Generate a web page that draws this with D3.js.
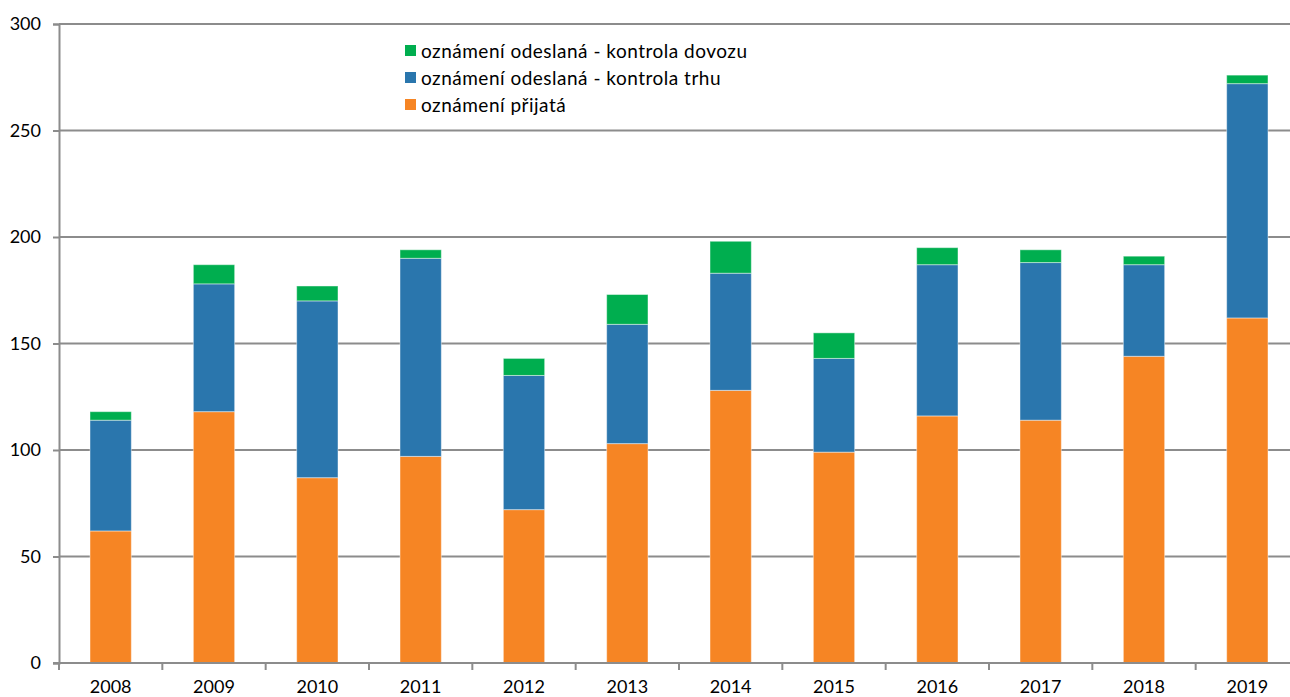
<!DOCTYPE html>
<html>
<head>
<meta charset="utf-8">
<script src="https://cdn.jsdelivr.net/npm/d3@7"></script>
<style>
  html, body { margin: 0; padding: 0; background: #fff; }
  svg { display: block; }
  text { font-family: Lato, "Open Sans", sans-serif; fill: #000; }
</style>
</head>
<body>
<svg id="chart" width="1290" height="697"></svg>
<script>
const years = ["2008","2009","2010","2011","2012","2013","2014","2015","2016","2017","2018","2019"];
const prijata = [62, 118, 87, 97, 72, 103, 128, 99, 116, 114, 144, 162];
const kontrolaTrhu = [52, 60, 83, 93, 63, 56, 55, 44, 71, 74, 43, 110];
const kontrolaDovozu = [4, 9, 7, 4, 8, 14, 15, 12, 8, 6, 4, 4];
const seriesNames = ["oznámení přijatá", "oznámení odeslaná - kontrola trhu", "oznámení odeslaná - kontrola dovozu"];
const seriesColors = ["#F68524", "#2A76AD", "#00AE4F"];
const yTicks = [0, 50, 100, 150, 200, 250, 300];

(function () {
const svg = d3.select("#chart");
const mLeft = 59, mRight = 1299, mTop = 24, mBottom = 663;

const x = d3.scaleBand().domain(years).range([mLeft, mRight]).paddingInner(0.6).paddingOuter(0.3);
const xb = d3.scaleBand().domain(years).range([mLeft, mRight]);
const y = d3.scaleLinear().domain([0, 300]).range([mBottom, mTop]);

// gridlines
svg.append("g").selectAll("line").data(yTicks.filter(d => d > 0)).join("line")
  .attr("x1", mLeft).attr("x2", mRight)
  .attr("y1", d => y(d)).attr("y2", d => y(d))
  .attr("stroke", "#8c8c8c").attr("stroke-width", 2);

// stacked data
const table = years.map((yr, i) => ({ year: yr, s0: prijata[i], s1: kontrolaTrhu[i], s2: kontrolaDovozu[i] }));
const stacked = d3.stack().keys(["s0", "s1", "s2"])(table);

svg.append("g").selectAll("g").data(stacked).join("g")
  .attr("fill", (d, i) => seriesColors[i])
  .selectAll("rect").data(d => d).join("rect")
  .attr("x", d => x(d.data.year))
  .attr("width", x.bandwidth())
  .attr("y", d => y(d[1]))
  .attr("height", d => y(d[0]) - y(d[1]))
  .attr("stroke", "rgba(255,255,255,0.45)")
  .attr("stroke-width", 1);

// y axis
const yAxis = d3.axisLeft(y).tickValues(yTicks).tickSize(6).tickPadding(12).tickFormat(d3.format("d"));
const gy = svg.append("g").attr("transform", `translate(${mLeft},0)`).call(yAxis);
gy.select(".domain").attr("stroke", "#8c8c8c").attr("stroke-width", 2);
gy.selectAll(".tick line").attr("stroke", "#8c8c8c").attr("stroke-width", 2);
gy.selectAll(".tick text").attr("font-size", 18).attr("fill", "#000").attr("font-family", "Lato, 'Open Sans', sans-serif");

// x axis
svg.append("line").attr("x1", mLeft - 6).attr("x2", mRight).attr("y1", mBottom).attr("y2", mBottom)
  .attr("stroke", "#8c8c8c").attr("stroke-width", 2);
const bounds = years.map(d => xb(d)).concat([mRight]);
svg.append("g").selectAll("line").data(bounds).join("line")
  .attr("x1", d => d).attr("x2", d => d)
  .attr("y1", mBottom).attr("y2", mBottom + 7)
  .attr("stroke", "#8c8c8c").attr("stroke-width", 2);
svg.append("g").selectAll("text").data(years).join("text")
  .attr("x", d => xb(d) + xb.bandwidth() / 2)
  .attr("y", 693)
  .attr("text-anchor", "middle")
  .attr("font-size", 18)
  .text(d => d);

// legend
const legendOrder = [2, 1, 0];
const lg = svg.append("g");
legendOrder.forEach((si, k) => {
  const cy = 51 + k * 27;
  lg.append("rect").attr("x", 405).attr("y", cy - 6).attr("width", 11).attr("height", 11).attr("fill", seriesColors[si]);
  lg.append("text").attr("x", 421).attr("y", cy).attr("dy", "0.35em").attr("font-size", 19)
    .attr("letter-spacing", 0.5).text(seriesNames[si]);
});
})();
</script>
</body>
</html>
